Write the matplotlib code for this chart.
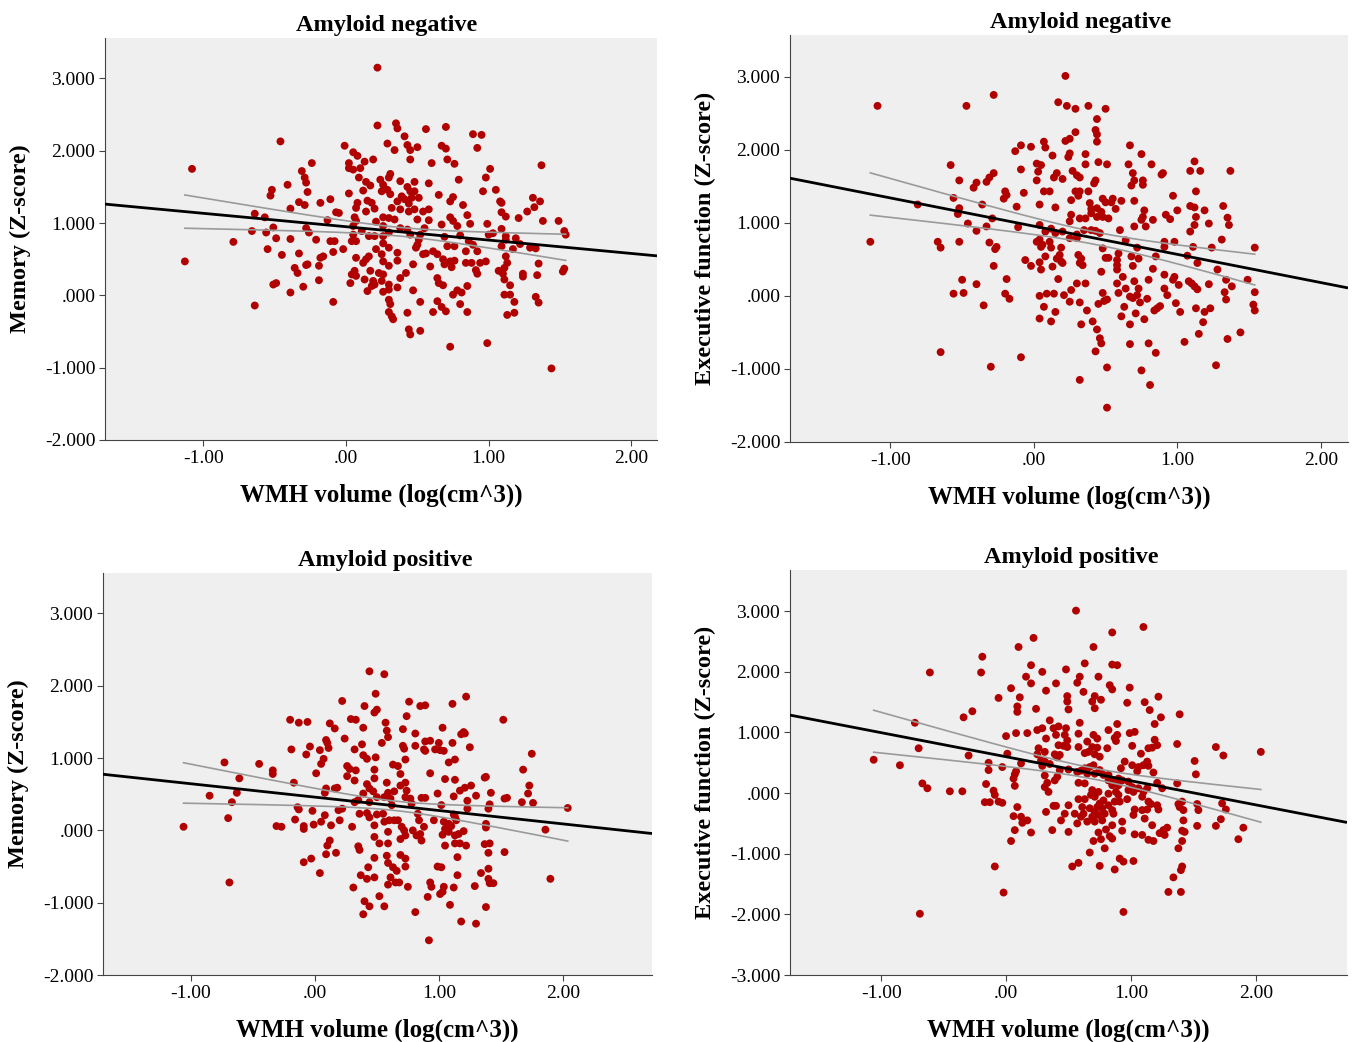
import numpy as np
import matplotlib
matplotlib.use("Agg")
import matplotlib.pyplot as plt

# ---------------- data (WMH volume log(cm^3), Z-score) ----------------
neg_mem_x, neg_mem_y = zip(*[
(-0.46,2.13),(-1.08,1.75),(-0.41,1.53),(-0.52,1.46),(-0.53,1.38),(-0.33,1.29),(-0.39,1.20),(-0.64,1.13),(-0.57,1.08),(-0.51,0.94),(-0.66,0.89),(-0.56,0.87),(-0.49,0.79),(-0.39,0.78),(-0.79,0.74),(-0.55,0.64),(-0.45,0.56),(-0.33,0.58),(-1.13,0.47),(-0.36,0.38),(-0.34,0.31),(-0.51,0.15),(-0.49,0.17),(-0.39,0.04),(-0.64,-0.14),
(0.22,3.15),(0.22,2.35),(0.35,2.38),(0.36,2.31),(0.41,2.20),(0.56,2.30),(0.29,2.10),(0.34,2.01),(0.43,2.08),(0.45,2.01),(0.50,2.05),(0.45,1.88),(-0.01,2.07),(0.05,1.98),(0.08,1.93),(0.02,1.83),(0.13,1.85),(0.19,1.88),(0.02,1.76),(0.05,1.74),(0.10,1.76),(-0.24,1.83),(-0.31,1.72),(-0.29,1.63),(-0.28,1.56),(-0.27,1.43),(-0.29,1.25),(-0.28,0.93),(-0.26,0.87),(-0.28,0.42),(-0.30,0.12),(0.09,1.63),(0.14,1.57),(0.17,1.52),(0.12,1.45),(0.24,1.60),(0.31,1.68),(0.30,1.63),(0.26,1.53),(0.29,1.46),(0.25,1.44),(0.31,1.40),(0.38,1.58),(0.43,1.50),(0.48,1.57),(0.58,1.55),(0.45,1.44),(0.39,1.37),(0.36,1.30),(0.41,1.33),(0.46,1.35),(0.48,1.44),(0.51,1.35),(0.02,1.41),(0.08,1.28),(0.07,1.21),(0.15,1.31),(0.18,1.28),(0.20,1.20),(0.14,1.16),(-0.18,1.28),(-0.11,1.33),(-0.07,1.15),(-0.05,1.14),(-0.13,1.04),(0.06,1.08),(0.07,1.03),(0.21,1.02),(0.26,1.08),(0.30,1.07),(0.34,1.05),(0.32,1.21),(0.38,1.19),(0.44,1.27),(0.44,1.16),(0.48,1.19),(0.54,1.16),(0.58,1.19),(0.50,1.05),(0.58,1.04),(0.55,0.93),(0.05,0.96),(0.05,0.84),(0.11,0.89),(0.16,0.82),(0.20,0.82),(0.26,0.96),(0.26,0.82),(0.30,0.87),(0.38,0.93),(0.43,0.91),(0.45,0.84),(0.51,0.77),(0.52,0.84),(0.07,0.75),(0.04,0.75),(-0.21,0.77),(-0.11,0.75),(-0.08,0.75),(-0.09,0.60),(-0.02,0.64),(0.21,0.64),(0.26,0.72),(0.30,0.66),(0.36,0.59),(0.50,0.70),(0.49,0.66),(0.54,0.57),(0.56,0.58),(0.25,0.57),(0.26,0.47),(0.07,0.52),(0.14,0.50),(0.16,0.54),(0.12,0.45),(0.17,0.34),(0.23,0.31),(0.30,0.41),(0.36,0.48),(0.47,0.43),(-0.18,0.52),(-0.16,0.54),(-0.19,0.41),(-0.27,0.43),(0.06,0.34),(0.04,0.29),(0.07,0.27),(0.03,0.17),(0.13,0.22),(0.19,0.20),(0.25,0.20),(0.20,0.15),(0.18,0.13),(0.26,0.29),(0.30,0.15),(0.36,0.11),(0.38,0.24),(0.42,0.31),(0.47,0.07),(0.30,0.08),(0.26,0.05),(0.15,0.06),(-0.19,0.21),(-0.09,-0.09),(0.30,-0.06),(0.31,-0.12),(0.30,-0.23),(0.32,-0.29),(0.33,-0.33),(0.43,-0.24),(0.52,-0.09),(0.44,-0.47),(0.45,-0.54),(0.52,-0.49),
(0.60,1.83),(0.70,2.33),(0.89,2.23),(0.95,2.22),(0.92,2.04),(0.67,2.07),(0.70,2.03),(0.71,1.88),(0.76,1.82),(1.01,1.75),(1.37,1.80),(0.98,1.63),(0.79,1.60),(0.96,1.44),(1.05,1.46),(0.65,1.39),(0.75,1.36),(0.73,1.30),(0.82,1.25),(1.08,1.30),(1.09,1.28),(1.31,1.35),(1.36,1.30),(1.32,1.22),(1.27,1.16),(1.21,1.07),(1.09,1.15),(1.12,1.09),(1.38,1.03),(1.49,1.03),(1.53,0.89),(1.54,0.84),(0.67,0.98),(0.73,1.08),(0.75,1.03),(0.78,0.96),(0.85,1.11),(0.87,0.99),(0.99,0.99),(1.00,0.84),(1.03,0.86),(1.09,0.92),(1.12,0.82),(1.12,0.77),(1.19,0.79),(1.22,0.71),(1.17,0.64),(1.09,0.68),(0.69,0.81),(0.71,0.68),(0.76,0.68),(0.80,0.83),(0.84,0.61),(0.86,0.75),(0.89,0.70),(0.92,0.61),(0.61,0.61),(0.64,0.57),(0.59,0.40),(0.68,0.50),(0.69,0.43),(0.73,0.47),(0.76,0.48),(0.74,0.39),(0.84,0.45),(0.88,0.45),(0.94,0.45),(0.98,0.47),(0.91,0.35),(0.92,0.30),(1.07,0.34),(1.10,0.30),(1.11,0.22),(1.12,0.54),(1.13,0.45),(1.11,0.38),(1.24,0.30),(1.24,0.26),(1.29,0.66),(1.33,0.65),(1.35,0.44),(1.34,0.28),(1.53,0.37),(1.52,0.33),(0.64,0.24),(0.65,0.17),(0.68,0.14),(0.85,0.13),(0.81,0.04),(0.78,0.07),(0.75,0.01),(0.80,-0.12),(1.15,0.14),(1.11,0.01),(1.15,0.01),(1.18,-0.09),(0.64,-0.08),(0.67,-0.16),(0.70,-0.22),(0.61,-0.23),(0.85,-0.23),(1.18,-0.24),(1.13,-0.27),(1.33,-0.02),(1.35,-0.10),(0.73,-0.71),(0.99,-0.66),(1.44,-1.01),
])

neg_exe_x, neg_exe_y = zip(*[
(-1.09,2.60),(-0.47,2.60),(-0.58,1.79),(-0.52,1.58),(-0.40,1.55),(-0.42,1.48),(-0.33,1.56),(-0.31,1.62),(-0.56,1.34),(-0.81,1.25),(-0.52,1.20),(-0.53,1.12),(-0.36,1.25),(-0.46,0.99),(-0.40,0.89),(-0.33,0.95),(-1.14,0.74),(-0.67,0.74),(-0.65,0.66),(-0.52,0.74),(-0.31,0.73),(-0.35,-0.13),(-0.50,0.22),(-0.40,0.16),(-0.56,0.03),(-0.49,0.04),(-0.65,-0.77),
(0.22,3.01),(-0.28,2.75),(0.17,2.65),(0.23,2.60),(0.29,2.56),(0.38,2.60),(0.50,2.56),(0.44,2.42),(0.43,2.27),(0.44,2.21),(0.44,2.11),(0.29,2.24),(0.25,2.15),(0.22,2.12),(0.07,2.11),(0.08,2.03),(-0.02,2.04),(-0.09,2.06),(-0.13,1.98),(0.13,1.92),(0.25,1.95),(0.24,1.90),(0.36,1.94),(0.36,1.80),(0.45,1.83),(0.51,1.80),(0.02,1.81),(0.05,1.79),(0.03,1.70),(-0.09,1.73),(-0.28,1.68),(0.16,1.68),(0.14,1.62),(0.20,1.60),(0.02,1.58),(0.27,1.71),(0.30,1.65),(0.32,1.62),(0.43,1.58),(0.42,1.54),(-0.20,1.43),(-0.19,1.38),(-0.21,1.33),(-0.07,1.41),(0.07,1.43),(0.11,1.43),(0.29,1.43),(0.32,1.43),(0.38,1.43),(0.31,1.37),(0.26,1.31),(0.04,1.25),(0.15,1.21),(-0.12,1.22),(0.39,1.27),(0.40,1.19),(0.44,1.20),(0.48,1.33),(0.50,1.28),(0.55,1.33),(0.54,1.28),(0.47,1.15),(0.40,1.13),(0.44,1.08),(0.48,1.08),(0.52,1.06),(0.57,1.19),(0.26,1.11),(0.25,1.02),(0.32,1.06),(0.36,1.06),(-0.29,1.06),(-0.11,0.94),(0.04,0.97),(0.08,0.88),(0.12,0.92),(0.15,0.86),(0.20,0.88),(0.25,0.79),(0.30,0.84),(0.30,0.79),(0.35,0.90),(0.40,0.90),(0.43,0.89),(0.46,0.86),(0.60,0.90),(0.04,0.77),(0.02,0.74),(0.06,0.70),(0.11,0.74),(0.12,0.66),(0.05,0.67),(-0.26,0.67),(-0.27,0.64),(-0.06,0.49),(-0.02,0.41),(0.04,0.46),(0.08,0.54),(0.05,0.36),(0.13,0.40),(0.16,0.51),(0.18,0.56),(0.19,0.47),(0.20,0.45),(0.31,0.56),(0.33,0.51),(0.32,0.45),(0.34,0.42),(0.19,0.66),(0.48,0.65),(0.50,0.52),(0.52,0.52),(0.59,0.58),(0.58,0.49),(0.58,0.42),(0.58,0.36),(0.47,0.33),(-0.28,0.41),(-0.19,0.23),(0.17,0.23),(0.30,0.17),(0.36,0.17),(0.58,0.17),(-0.20,0.03),(-0.17,-0.04),(0.04,0.00),(0.09,0.03),(0.14,0.03),(0.21,0.01),(0.26,0.08),(0.25,-0.08),(0.32,-0.09),(0.48,0.04),(0.51,-0.05),(0.49,-0.07),(0.45,-0.11),(0.59,0.04),(0.07,-0.15),(0.15,-0.22),(0.04,-0.31),(0.12,-0.35),(0.37,-0.20),(0.33,-0.39),(0.41,-0.35),(0.44,-0.46),(0.46,-0.58),(0.47,-0.65),(0.43,-0.76),(-0.09,-0.84),(-0.30,-0.97),(0.32,-1.15),(0.51,-0.98),(0.51,-1.53),
(0.67,2.06),(0.75,1.94),(0.66,1.80),(0.82,1.80),(0.69,1.68),(0.70,1.58),(0.76,1.58),(0.76,1.52),(0.68,1.51),(0.89,1.66),(0.90,1.68),(1.12,1.84),(1.09,1.71),(1.16,1.71),(1.37,1.71),(1.13,1.43),(0.97,1.37),(0.61,1.30),(0.70,1.30),(0.77,1.17),(0.76,1.08),(0.75,1.04),(0.83,1.04),(0.70,0.95),(0.78,0.95),(0.92,1.11),(0.95,1.05),(1.00,1.17),(1.09,1.23),(1.12,1.21),(1.13,1.08),(1.19,1.17),(1.12,0.97),(1.09,0.88),(1.22,0.99),(1.32,1.23),(1.35,1.07),(1.36,0.97),(1.31,0.77),(0.64,0.76),(0.91,0.74),(0.98,0.74),(0.91,0.67),(0.85,0.54),(0.72,0.66),(0.68,0.54),(0.73,0.51),(0.69,0.41),(0.62,0.26),(0.83,0.37),(1.11,0.67),(1.24,0.66),(1.07,0.55),(1.14,0.45),(1.28,0.36),(1.54,0.66),(0.64,0.10),(0.70,0.20),(0.73,0.10),(0.72,0.01),(0.67,-0.01),(0.69,-0.03),(0.80,0.22),(0.91,0.29),(0.91,0.10),(0.93,0.01),(0.97,0.22),(0.98,0.26),(1.01,0.15),(1.08,0.20),(1.10,0.17),(1.12,0.13),(1.14,0.09),(1.22,0.16),(1.34,0.22),(1.38,0.13),(1.33,0.05),(1.34,-0.05),(1.49,0.22),(1.54,0.05),(1.53,-0.12),(1.54,-0.20),(0.74,-0.09),(0.79,-0.04),(0.63,-0.15),(0.71,-0.24),(0.77,-0.32),(0.84,-0.20),(0.86,-0.17),(0.88,-0.14),(0.99,-0.10),(1.02,-0.22),(1.13,-0.17),(1.19,-0.22),(1.23,-0.17),(1.18,-0.36),(0.61,-0.28),(0.67,-0.39),(1.15,-0.52),(1.05,-0.63),(1.35,-0.59),(1.44,-0.50),(0.67,-0.66),(0.80,-0.65),(0.85,-0.78),(1.27,-0.95),(0.75,-1.02),(0.81,-1.22),
])

pos_mem_x, pos_mem_y = zip(*[
(-0.20,1.53),(-0.13,1.49),(-0.19,1.12),(-0.73,0.94),(-0.45,0.92),(-0.34,0.83),(-0.34,0.78),(-0.61,0.72),(-0.17,0.66),(-0.85,0.48),(-0.63,0.52),(-0.67,0.39),(-0.70,0.17),(-1.06,0.05),(-0.31,0.06),(-0.27,0.05),(-0.16,0.15),(-0.14,0.32),(-0.13,0.29),(-0.09,0.06),(-0.09,0.02),(-0.09,-0.44),(-0.69,-0.72),
(0.44,2.20),(0.56,2.16),(0.49,1.89),(0.22,1.79),(0.40,1.72),(0.76,1.78),(0.85,1.72),(0.89,1.73),(0.50,1.67),(0.48,1.63),(0.74,1.58),(-0.06,1.50),(0.29,1.54),(0.33,1.53),(0.12,1.48),(0.16,1.41),(0.39,1.42),(0.57,1.49),(0.58,1.38),(0.71,1.40),(0.81,1.34),(0.59,1.29),(0.54,1.21),(0.24,1.27),(0.09,1.25),(0.10,1.21),(-0.04,1.16),(-0.07,1.05),(0.04,1.11),(0.11,1.14),(0.32,1.12),(0.38,1.19),(0.71,1.17),(0.72,1.13),(0.81,1.17),(0.89,1.23),(0.93,1.24),(0.88,1.12),(0.89,1.10),(0.39,1.04),(0.42,0.99),(0.49,1.01),(0.73,0.98),(0.07,0.99),(0.05,0.92),(0.01,0.79),(0.26,0.89),(0.28,0.85),(0.33,0.83),(0.26,0.75),(0.32,0.69),(0.48,0.84),(0.48,0.72),(0.63,0.91),(0.67,0.89),(0.69,0.78),(0.93,0.79),(0.42,0.64),(0.44,0.58),(0.39,0.51),(0.47,0.54),(0.58,0.66),(0.59,0.52),(0.64,0.54),(0.69,0.62),(0.73,0.66),(0.74,0.55),(0.50,0.46),(0.56,0.46),(0.61,0.44),(0.62,0.35),(0.18,0.59),(0.16,0.58),(0.09,0.58),(0.08,0.52),(0.22,0.30),(0.19,0.28),(0.32,0.39),(0.35,0.42),(0.44,0.39),(0.36,0.23),(0.42,0.24),(0.44,0.18),(0.50,0.22),(0.55,0.23),(0.60,0.14),(0.64,0.14),(0.67,0.14),(0.73,0.46),(0.77,0.44),(0.78,0.37),(0.86,0.45),(0.89,0.45),(0.83,0.23),(0.84,0.14),(0.88,0.05),(0.85,-0.05),(0.79,0.00),(0.82,-0.07),(0.72,0.00),(0.70,0.05),(0.73,-0.07),(0.86,-0.14),(0.96,0.14),(-0.02,0.27),(-0.01,0.08),(0.05,0.12),(0.08,0.21),(0.13,0.07),(0.20,0.14),(0.30,0.05),(0.48,0.07),(0.56,0.12),(0.59,-0.02),(0.69,-0.12),(0.48,-0.09),(0.52,-0.18),(0.59,-0.18),(0.35,-0.22),(0.36,-0.27),(0.12,-0.14),(0.10,-0.21),(0.09,-0.33),(0.17,-0.31),(-0.03,-0.39),(0.04,-0.59),(0.48,-0.38),(0.58,-0.35),(0.59,-0.45),(0.69,-0.34),(0.73,-0.39),(0.73,-0.50),(0.63,-0.51),(0.66,-0.56),(0.43,-0.51),(0.37,-0.62),(0.42,-0.67),(0.48,-0.65),(0.61,-0.65),(0.65,-0.72),(0.59,-0.75),(0.68,-0.72),(0.75,-0.78),(0.31,-0.79),(0.52,-0.91),(0.40,-0.98),(0.44,-1.05),(0.39,-1.16),(0.56,-1.05),(0.81,-1.13),(0.93,-0.72),(0.94,-0.78),(0.91,-0.92),(0.92,-1.52),
(1.22,1.85),(1.11,1.75),(1.52,1.53),(1.03,1.42),(1.20,1.36),(1.21,1.34),(1.18,1.33),(1.00,1.21),(1.11,1.21),(1.25,1.15),(0.97,1.12),(1.01,1.11),(1.04,1.10),(1.13,0.98),(1.08,0.94),(1.75,1.06),(1.68,0.84),(1.37,0.73),(1.38,0.74),(1.05,0.71),(1.13,0.70),(1.26,0.62),(1.21,0.59),(1.17,0.55),(1.73,0.62),(1.72,0.51),(0.99,0.51),(1.12,0.47),(1.30,0.48),(1.42,0.52),(1.23,0.41),(1.53,0.44),(1.55,0.45),(1.67,0.39),(1.76,0.38),(1.02,0.35),(2.04,0.31),(1.23,0.30),(1.41,0.36),(1.40,0.30),(1.04,0.12),(1.08,0.09),(1.12,0.22),(1.13,0.19),(1.14,0.14),(1.05,0.02),(1.10,0.06),(1.03,-0.06),(1.08,-0.02),(1.13,-0.07),(1.16,-0.05),(1.20,-0.01),(1.38,0.09),(1.38,0.04),(1.86,0.01),(1.13,-0.18),(1.17,-0.18),(1.22,-0.21),(1.05,-0.21),(1.37,-0.19),(1.41,-0.18),(1.40,-0.31),(1.53,-0.30),(1.15,-0.37),(0.99,-0.50),(1.02,-0.51),(1.15,-0.62),(1.40,-0.53),(1.34,-0.59),(1.40,-0.67),(1.41,-0.73),(1.44,-0.73),(1.29,-0.77),(1.12,-0.79),(1.04,-0.78),(1.01,-0.88),(1.03,-0.85),(1.90,-0.67),(1.09,-1.03),(1.38,-1.06),(1.18,-1.26),(1.30,-1.29),
])

pos_exe_x, pos_exe_y = zip(*[
(-0.19,2.25),(-0.61,1.99),(-0.20,1.99),(-0.34,1.25),(-0.27,1.35),(-0.73,1.16),(-0.70,0.74),(-1.06,0.55),(-0.85,0.46),(-0.30,0.62),(-0.14,0.50),(-0.14,0.38),(-0.67,0.16),(-0.63,0.08),(-0.45,0.03),(-0.35,0.03),(-0.16,0.15),(-0.10,0.04),(-0.09,-0.03),(-0.17,-0.15),(-0.13,-0.15),(-0.09,-1.21),(-0.69,-1.99),
(0.56,3.01),(0.85,2.65),(0.22,2.56),(0.10,2.41),(0.70,2.41),(-0.06,1.57),(0.04,1.73),(0.20,2.11),(0.29,2.00),(0.16,1.92),(0.20,1.81),(0.32,1.69),(0.40,1.81),(0.48,2.04),(0.63,2.14),(0.57,1.82),(0.59,1.92),(0.74,1.92),(0.85,2.12),(0.89,2.11),(0.83,1.78),(0.85,1.71),(0.49,1.60),(0.49,1.51),(0.50,1.38),(0.62,1.67),(0.71,1.60),(0.69,1.51),(0.76,1.54),(0.71,1.40),(0.11,1.58),(0.09,1.43),(0.09,1.34),(0.24,1.39),(0.00,0.94),(0.08,0.99),(0.17,0.99),(0.25,1.04),(0.29,1.07),(0.35,1.20),(0.38,1.07),(0.42,1.10),(0.48,1.07),(0.47,0.96),(0.49,0.87),(0.46,0.78),(0.49,0.76),(0.32,0.90),(0.40,0.96),(0.42,0.79),(0.58,0.98),(0.58,0.76),(0.59,1.16),(0.70,0.96),(0.73,0.90),(0.65,0.85),(0.63,0.66),(0.66,0.68),(0.69,0.76),(0.73,0.75),(0.71,0.64),(0.75,0.60),(0.81,0.74),(0.82,1.04),(0.89,1.14),(0.88,0.86),(0.87,0.91),(0.89,0.96),(0.26,0.74),(0.25,0.64),(0.31,0.68),(0.39,0.64),(0.41,0.59),(0.43,0.63),(0.28,0.54),(0.31,0.52),(0.35,0.48),(0.29,0.45),(-0.03,0.43),(0.01,0.65),(0.12,0.49),(0.07,0.31),(0.06,0.24),(0.08,0.36),(0.07,0.12),(-0.06,-0.14),(-0.03,-0.16),(0.31,0.29),(0.41,0.27),(0.43,0.38),(0.39,0.21),(0.33,0.17),(0.31,0.10),(0.34,0.02),(0.32,-0.31),(0.38,-0.21),(0.40,-0.21),(0.50,0.39),(0.57,0.35),(0.60,0.37),(0.58,0.17),(0.58,-0.10),(0.63,0.41),(0.67,0.43),(0.65,0.32),(0.70,0.46),(0.71,0.32),(0.75,0.38),(0.78,0.30),(0.82,0.30),(0.82,0.21),(0.86,0.21),(0.90,0.13),(0.93,0.21),(0.95,0.52),(0.92,0.41),(0.90,0.24),(0.63,0.16),(0.69,0.05),(0.68,-0.03),(0.71,-0.06),(0.74,0.02),(0.78,-0.12),(0.82,-0.01),(0.85,0.13),(0.88,0.02),(0.90,-0.03),(0.87,-0.14),(0.91,-0.14),(0.73,-0.23),(0.75,-0.17),(0.77,-0.25),(0.79,-0.34),(0.74,-0.36),(0.82,-0.20),(0.85,-0.28),(0.86,-0.34),(0.63,-0.10),(0.62,-0.34),(0.60,-0.39),(0.55,-0.34),(0.50,-0.20),(0.61,-0.23),(0.47,-0.34),(0.44,-0.45),(0.57,-0.50),(0.65,-0.47),(0.67,-0.25),(0.69,-0.39),(0.71,-0.31),(0.71,-0.47),(0.77,-0.45),(0.85,-0.53),(0.80,-0.60),(0.83,-0.71),(0.85,-0.75),(0.74,-0.65),(0.76,-0.76),(0.70,-0.79),(0.79,-0.91),(0.67,-0.98),(0.50,-0.64),(0.37,-0.61),(0.20,-0.65),(0.07,-0.61),(0.04,-0.79),(0.09,-0.23),(0.06,-0.38),(0.12,-0.39),(0.13,-0.49),(0.17,-0.45),(0.93,-0.47),(0.93,-0.62),(0.91,-1.08),(0.94,-1.13),(0.87,-1.26),(0.75,-1.20),(0.58,-1.15),(0.53,-1.21),(-0.02,-1.64),(0.94,-1.96),
(1.10,2.74),(0.99,1.74),(1.22,1.59),(0.97,1.49),(1.11,1.50),(1.15,1.37),(1.24,1.25),(1.19,1.14),(1.39,1.30),(0.99,0.99),(1.03,1.01),(1.01,0.78),(1.19,0.88),(1.21,0.79),(1.14,0.74),(1.17,0.75),(1.08,0.65),(1.37,0.81),(1.68,0.76),(1.74,0.62),(2.04,0.68),(1.51,0.53),(1.52,0.31),(1.01,0.46),(1.06,0.43),(1.10,0.46),(1.13,0.52),(1.14,0.45),(1.05,0.36),(1.18,0.34),(0.98,0.19),(1.01,0.10),(0.98,0.05),(1.02,0.02),(1.06,0.08),(1.10,0.02),(1.13,0.08),(1.21,0.17),(1.25,0.08),(1.37,0.16),(0.97,-0.10),(1.09,-0.06),(1.14,-0.14),(1.16,-0.18),(1.13,-0.27),(1.09,-0.28),(1.03,-0.27),(1.02,-0.36),(1.21,-0.20),(1.22,-0.27),(1.11,-0.42),(1.38,-0.18),(1.41,-0.14),(1.39,-0.23),(1.42,-0.28),(1.53,-0.18),(1.54,-0.28),(1.73,-0.17),(1.76,-0.27),(1.72,-0.43),(1.68,-0.54),(1.90,-0.57),(1.86,-0.76),(1.53,-0.54),(1.42,-0.45),(1.17,-0.53),(1.03,-0.68),(1.09,-0.69),(1.14,-0.77),(1.18,-0.79),(1.23,-0.66),(1.27,-0.69),(1.29,-0.57),(1.26,-0.61),(1.41,-0.62),(1.43,-0.64),(1.41,-0.79),(1.38,-0.91),(1.02,-1.12),(1.41,-1.21),(1.40,-1.27),(1.34,-1.39),(1.30,-1.63),(1.40,-1.63),
])

# regression fits: intercept, slope; CI band: centre, half-width at centre, growth
fit_params = {
    "neg_mem": (0.95, -0.185, 0.38, 0.060, 0.147),
    "neg_exe": (0.954, -0.386, 0.44, 0.085, 0.175),
    "pos_mem": (0.46, -0.185, 0.65, 0.065, 0.159),
    "pos_exe": (0.60, -0.397, 0.70, 0.090, 0.190),
}

titles = ["Amyloid negative", "Amyloid negative", "Amyloid positive", "Amyloid positive"]
ylabels = ["Memory (Z-score)", "Executive function (Z-score)", "Memory (Z-score)", "Executive function (Z-score)"]
xlabel = "WMH volume (log(cm^3))"
xtick_vals = [-1, 0, 1, 2]
xtick_labels = ["-1.00", ".00", "1.00", "2.00"]
ytick_vals_a = [-2, -1, 0, 1, 2, 3]
ytick_labels_a = ["-2.000", "-1.000", ".000", "1.000", "2.000", "3.000"]
ytick_vals_b = [-3, -2, -1, 0, 1, 2, 3]
ytick_labels_b = ["-3.000", "-2.000", "-1.000", ".000", "1.000", "2.000", "3.000"]

# ---------------- layout ----------------
W, H = 1352, 1042
fig = plt.figure(figsize=(W / 100, H / 100), dpi=100)
fig.patch.set_facecolor("white")

def rect(l, t, r, b):
    return [l / W, 1 - b / H, (r - l) / W, (b - t) / H]

panels = [
    dict(key="neg_mem", x=neg_mem_x, y=neg_mem_y, rect=rect(105, 38, 657, 440), tx=0.511,
         xlim=(-1.69, 2.18), ylim=(-2.0, 3.56), yt=(ytick_vals_a, ytick_labels_a)),
    dict(key="neg_exe", x=neg_exe_x, y=neg_exe_y, rect=rect(790, 35, 1348, 442), tx=0.521,
         xlim=(-1.70, 2.19), ylim=(-2.0, 3.57), yt=(ytick_vals_a, ytick_labels_a)),
    dict(key="pos_mem", x=pos_mem_x, y=pos_mem_y, rect=rect(103, 573, 652, 975), tx=0.514,
         xlim=(-1.71, 2.72), ylim=(-2.0, 3.56), yt=(ytick_vals_a, ytick_labels_a)),
    dict(key="pos_exe", x=pos_exe_x, y=pos_exe_y, rect=rect(790, 570, 1347, 975), tx=0.505,
         xlim=(-1.73, 2.73), ylim=(-3.0, 3.68), yt=(ytick_vals_b, ytick_labels_b)),
]

serif = ["Liberation Serif", "DejaVu Serif"]

for i, p in enumerate(panels):
    ax = fig.add_axes(p["rect"])
    ax.set_facecolor("#efefef")
    x = np.asarray(p["x"])
    y = np.asarray(p["y"])
    ax.scatter(x, y, s=32, color="#b00000", edgecolors="none", zorder=3)

    b0, b1, xm, a, g = fit_params[p["key"]]
    xx = np.array(p["xlim"])
    ax.plot(xx, b0 + b1 * xx, color="black", lw=2.0, zorder=5, solid_capstyle="butt")
    xc = np.linspace(x.min(), x.max(), 200)
    fc = b0 + b1 * xc
    hw = np.sqrt(a ** 2 + (g * (xc - xm)) ** 2)
    ax.plot(xc, fc + hw, color="#9a9a9a", lw=1.2, zorder=4)
    ax.plot(xc, fc - hw, color="#9a9a9a", lw=1.2, zorder=4)

    ax.set_xlim(*p["xlim"])
    ax.set_ylim(*p["ylim"])
    ax.set_xticks(xtick_vals)
    ax.set_xticklabels(xtick_labels, fontfamily=serif, fontsize=14)
    ax.set_yticks(p["yt"][0])
    ax.set_yticklabels(p["yt"][1], fontfamily=serif, fontsize=14)
    ax.tick_params(direction="out", length=4, width=0.8, color="#444444", pad=3)
    ax.tick_params(axis="x", pad=3)
    for s in ("top", "right"):
        ax.spines[s].set_visible(False)
    for s in ("left", "bottom"):
        ax.spines[s].set_color("#444444")
        ax.spines[s].set_linewidth(0.8)

    ax.set_title(titles[i], fontfamily=serif, fontsize=17.5, fontweight="bold", pad=5, x=p["tx"])
    ax.set_xlabel(xlabel, fontfamily=serif, fontsize=18, fontweight="bold", labelpad=12)
    ax.set_ylabel(ylabels[i], fontfamily=serif, fontsize=17.5, fontweight="bold", labelpad=10)

fig.savefig("out.png", dpi=100)
